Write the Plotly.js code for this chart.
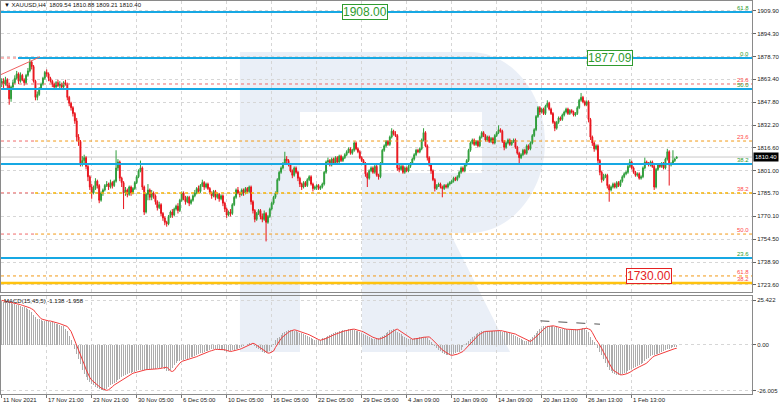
<!DOCTYPE html>
<html><head><meta charset="utf-8">
<script src="https://cdn.plot.ly/plotly-3.0.1.min.js"></script>
<style>html,body{margin:0;padding:0;background:#fff}#chart{width:782px;height:406px}</style>
</head><body><div id="chart"></div>
<script>
// ---------- DATA (XAUUSD H4, 11 Nov 2021 21:00 onward) ----------
const opens = [
1860,1862,1860,1863,1859,1850,1858,1861,1864,1867,
1862,1866,1863,1861,1866,1869,1875,1872,1862,1851,
1853,1857,1860,1864,1868,1867,1864,1862,1860,1858,
1861,1859,1860,1858,1861,1860,1851,1847,1844,1840,
1835,1824,1821,1806,1808,1810,1804,1797,1790,1786,
1789,1794,1791,1781,1786,1788,1791,1792,1790,1793,
1791,1794,1803,1807,1796,1793,1786,1788,1785,1790,
1786,1789,1793,1797,1801,1803,1790,1773,1785,1788,
1783,1786,1784,1780,1776,1778,1772,1769,1766,1765,
1770,1773,1771,1775,1777,1774,1781,1786,1782,1780,
1783,1779,1781,1784,1786,1789,1787,1791,1793,1790,
1792,1789,1786,1784,1787,1783,1785,1782,1784,1779,
1775,1771,1773,1772,1778,1783,1788,1786,1785,1788,
1786,1789,1787,1790,1780,1774,1768,1772,1774,1770,
1768,1772,1766,1770,1775,1779,1783,1786,1795,1800,
1803,1806,1809,1808,1805,1801,1798,1803,1800,1796,
1792,1790,1793,1791,1795,1797,1792,1789,1790,1791,
1789,1790,1792,1800,1807,1808,1805,1809,1806,1810,
1807,1811,1808,1810,1812,1814,1816,1813,1815,1820,
1816,1814,1810,1808,1806,1799,1796,1801,1803,1800,
1804,1798,1797,1806,1815,1818,1821,1819,1824,1828,
1826,1825,1803,1802,1804,1800,1803,1801,1804,1806,
1809,1812,1815,1814,1816,1822,1827,1818,1810,1805,
1801,1795,1789,1791,1792,1790,1789,1791,1790,1792,
1793,1794,1796,1795,1797,1800,1803,1801,1805,1808,
1815,1820,1822,1819,1821,1818,1824,1827,1825,1822,
1824,1821,1823,1820,1825,1827,1829,1828,1821,1817,
1820,1822,1819,1821,1822,1817,1813,1810,1812,1815,
1813,1818,1816,1820,1825,1829,1838,1844,1841,1843,
1840,1845,1847,1843,1840,1834,1830,1834,1837,1836,
1839,1841,1843,1840,1842,1841,1839,1840,1844,1849,
1851,1848,1846,1848,1836,1824,1820,1816,1818,1808,
1800,1795,1797,1798,1791,1788,1790,1792,1790,1793,
1791,1794,1797,1799,1800,1804,1807,1803,1800,1798,
1799,1796,1797,1803,1807,1806,1805,1807,1804,1790,
1802,1805,1804,1806,1803,1809,1814,1805,1806,1808,
1809.54];
const highs = [
1864,1864,1865,1864,1861,1859,1863,1866,1869,1868,
1868,1867,1864,1867,1871,1878,1876,1873,1863,1855,
1858,1861,1865,1869,1870,1868,1865,1863,1861,1862,
1863,1862,1861,1862,1863,1861,1852,1848,1845,1841,
1837,1826,1822,1811,1812,1811,1805,1798,1792,1791,
1796,1795,1792,1787,1789,1792,1794,1793,1795,1794,
1795,1815,1809,1808,1797,1794,1790,1789,1791,1791,
1790,1794,1798,1802,1808,1804,1791,1786,1792,1789,
1788,1787,1785,1781,1780,1779,1773,1770,1767,1771,
1774,1775,1776,1778,1779,1782,1787,1787,1784,1784,
1784,1782,1785,1788,1790,1791,1792,1795,1794,1793,
1793,1790,1787,1788,1788,1786,1786,1785,1785,1780,
1776,1774,1775,1779,1784,1789,1790,1787,1789,1789,
1790,1790,1791,1791,1781,1775,1773,1775,1775,1772,
1774,1773,1771,1776,1780,1784,1787,1796,1801,1804,
1807,1814,1811,1809,1806,1802,1804,1804,1801,1797,
1793,1794,1794,1796,1798,1798,1793,1791,1792,1792,
1791,1793,1801,1808,1810,1809,1810,1810,1811,1811,
1812,1812,1811,1813,1815,1817,1817,1816,1821,1821,
1817,1815,1811,1809,1807,1800,1802,1804,1804,1805,
1805,1799,1807,1816,1819,1822,1822,1825,1830,1829,
1828,1826,1805,1805,1805,1804,1804,1805,1807,1810,
1813,1816,1816,1817,1823,1830,1828,1819,1811,1806,
1802,1796,1792,1793,1793,1791,1792,1792,1793,1794,
1795,1797,1797,1798,1801,1804,1804,1806,1809,1816,
1821,1823,1823,1822,1822,1825,1828,1828,1826,1825,
1825,1824,1824,1826,1828,1832,1830,1829,1822,1821,
1823,1823,1822,1823,1823,1818,1814,1813,1816,1816,
1819,1819,1821,1826,1830,1839,1845,1845,1844,1844,
1846,1849,1848,1844,1841,1835,1835,1838,1838,1840,
1842,1844,1844,1843,1843,1842,1841,1845,1850,1854,
1852,1849,1849,1849,1837,1825,1821,1819,1819,1809,
1801,1799,1799,1799,1792,1791,1793,1793,1794,1794,
1795,1798,1800,1801,1805,1809,1808,1804,1801,1800,
1800,1798,1804,1810,1808,1807,1808,1808,1805,1803,
1806,1806,1807,1807,1810,1816,1815,1807,1815,1810,
1810.88];
const lows = [
1858,1857,1859,1857,1846,1848,1856,1860,1863,1860,
1861,1862,1859,1860,1865,1868,1870,1861,1849,1849,
1852,1856,1859,1863,1865,1862,1861,1858,1856,1857,
1858,1857,1857,1856,1859,1849,1845,1842,1838,1833,
1821,1818,1804,1804,1806,1802,1794,1788,1782,1785,
1788,1789,1779,1780,1784,1787,1790,1788,1789,1789,
1790,1793,1801,1794,1790,1775,1784,1783,1784,1784,
1785,1788,1792,1796,1800,1788,1771,1772,1781,1781,
1781,1782,1778,1774,1775,1770,1767,1764,1763,1764,
1769,1769,1770,1774,1772,1773,1780,1781,1778,1779,
1777,1778,1780,1783,1785,1786,1786,1790,1788,1789,
1788,1785,1782,1783,1781,1782,1780,1781,1777,1773,
1769,1770,1770,1771,1777,1782,1785,1783,1784,1784,
1785,1786,1786,1778,1772,1766,1767,1771,1768,1766,
1767,1753,1765,1769,1774,1778,1782,1785,1794,1799,
1802,1805,1806,1804,1800,1796,1797,1799,1794,1790,
1788,1789,1790,1790,1794,1791,1787,1788,1788,1788,
1788,1789,1791,1799,1806,1804,1804,1805,1805,1806,
1806,1807,1807,1809,1811,1813,1812,1812,1814,1815,
1813,1809,1807,1805,1797,1790,1795,1800,1799,1799,
1797,1795,1796,1805,1814,1817,1818,1818,1823,1825,
1824,1801,1800,1801,1799,1799,1800,1800,1803,1805,
1808,1811,1813,1813,1815,1821,1817,1808,1804,1799,
1794,1787,1788,1790,1789,1783,1788,1789,1789,1791,
1792,1793,1794,1794,1796,1799,1800,1800,1804,1807,
1814,1819,1818,1818,1817,1817,1823,1824,1821,1821,
1820,1820,1819,1819,1824,1826,1827,1820,1815,1816,
1819,1818,1818,1820,1816,1812,1806,1809,1811,1812,
1812,1815,1815,1819,1824,1828,1837,1839,1840,1839,
1839,1844,1842,1839,1833,1828,1829,1833,1835,1835,
1838,1840,1839,1839,1840,1838,1838,1839,1843,1848,
1847,1845,1845,1834,1822,1818,1814,1815,1806,1798,
1793,1794,1796,1789,1780,1787,1789,1789,1789,1790,
1790,1793,1796,1798,1799,1803,1802,1799,1797,1797,
1795,1795,1796,1802,1805,1804,1804,1803,1788,1789,
1801,1803,1803,1802,1802,1808,1791,1804,1805,1807,
1809.21];
const closes = [
1862,1860,1863,1859,1850,1858,1861,1864,1867,1862,
1866,1863,1861,1866,1869,1875,1872,1862,1851,1853,
1857,1860,1864,1868,1867,1864,1862,1860,1858,1861,
1859,1860,1858,1861,1860,1851,1847,1844,1840,1835,
1824,1821,1806,1808,1810,1804,1797,1790,1786,1789,
1794,1791,1781,1786,1788,1791,1792,1790,1793,1791,
1794,1803,1807,1796,1793,1786,1788,1785,1790,1786,
1789,1793,1797,1801,1803,1790,1773,1785,1788,1783,
1786,1784,1780,1776,1778,1772,1769,1766,1765,1770,
1773,1771,1775,1777,1774,1781,1786,1782,1780,1783,
1779,1781,1784,1786,1789,1787,1791,1793,1790,1792,
1789,1786,1784,1787,1783,1785,1782,1784,1779,1775,
1771,1773,1772,1778,1783,1788,1786,1785,1788,1786,
1789,1787,1790,1780,1774,1768,1772,1774,1770,1768,
1772,1766,1770,1775,1779,1783,1786,1795,1800,1803,
1806,1809,1808,1805,1801,1798,1803,1800,1796,1792,
1790,1793,1791,1795,1797,1792,1789,1790,1791,1789,
1790,1792,1800,1807,1808,1805,1809,1806,1810,1807,
1811,1808,1810,1812,1814,1816,1813,1815,1820,1816,
1814,1810,1808,1806,1799,1796,1801,1803,1800,1804,
1798,1797,1806,1815,1818,1821,1819,1824,1828,1826,
1825,1803,1802,1804,1800,1803,1801,1804,1806,1809,
1812,1815,1814,1816,1822,1827,1818,1810,1805,1801,
1795,1789,1791,1792,1790,1789,1791,1790,1792,1793,
1794,1796,1795,1797,1800,1803,1801,1805,1808,1815,
1820,1822,1819,1821,1818,1824,1827,1825,1822,1824,
1821,1823,1820,1825,1827,1829,1828,1821,1817,1820,
1822,1819,1821,1822,1817,1813,1810,1812,1815,1813,
1818,1816,1820,1825,1829,1838,1844,1841,1843,1840,
1845,1847,1843,1840,1834,1830,1834,1837,1836,1839,
1841,1843,1840,1842,1841,1839,1840,1844,1849,1851,
1848,1846,1848,1836,1824,1820,1816,1818,1808,1800,
1795,1797,1798,1791,1788,1790,1792,1790,1793,1791,
1794,1797,1799,1800,1804,1807,1803,1800,1798,1799,
1796,1797,1803,1807,1806,1805,1807,1804,1790,1802,
1805,1804,1806,1803,1809,1814,1805,1806,1808,1809,
1810.4];
const macdMain = [
24.7,24.5,24.2,24.0,23.8,23.5,23.3,23.0,22.8,22.4,
22.1,21.7,21.4,21.0,20.4,19.8,18.4,17.0,15.9,14.8,
14.4,14.0,13.8,13.6,13.5,13.3,13.0,12.7,12.3,12.0,
11.6,11.2,10.8,10.4,9.0,7.6,5.0,2.5,0.0,-2.5,
-5.0,-8.0,-11.0,-14.0,-16.5,-18.5,-20.0,-21.0,-22.0,-23.0,
-23.8,-24.5,-25.0,-25.5,-25.8,-25.5,-24.8,-23.8,-22.8,-22.1,
-21.5,-20.8,-20.2,-19.3,-18.5,-17.7,-17.0,-16.5,-16.1,-15.8,
-15.5,-15.2,-14.7,-14.3,-14.2,-14.1,-14.0,-14.0,-13.9,-13.9,
-13.8,-13.6,-13.5,-13.3,-13.2,-13.0,-12.7,-13.5,-14.8,-15.1,
-14.5,-13.0,-11.5,-10.4,-9.4,-9.1,-8.8,-8.5,-8.2,-7.9,
-7.6,-7.1,-6.7,-6.2,-5.7,-5.3,-4.8,-4.4,-4.0,-3.6,
-3.3,-2.9,-2.6,-2.6,-2.6,-2.5,-2.5,-2.8,-3.2,-3.5,
-3.8,-3.6,-3.4,-3.1,-2.8,-2.5,-2.1,-1.6,-1.2,-0.6,
0.0,0.5,0.9,0.5,-0.2,-0.9,-1.7,-2.5,-3.2,-3.8,
-4.7,-4.6,-4.1,-3.5,-1.5,0.5,2.5,3.6,4.6,5.6,
6.6,7.2,7.8,8.2,8.5,8.3,8.0,7.6,7.2,6.9,
6.5,6.1,5.7,5.1,4.6,4.0,3.5,3.0,2.6,2.8,
3.0,3.6,4.1,4.7,5.2,5.6,6.0,6.5,7.0,7.3,
7.6,7.9,8.2,8.4,8.6,8.8,8.9,8.7,8.5,8.1,
7.7,7.3,6.8,6.2,5.6,4.9,4.3,3.9,3.5,3.2,
3.5,3.8,4.3,4.9,5.7,6.5,7.4,8.2,8.6,8.9,
8.2,7.5,6.8,6.0,5.1,4.3,3.7,3.2,3.3,3.4,
3.6,3.8,4.0,4.3,4.5,4.5,4.5,3.7,2.8,1.7,
0.5,-0.7,-1.9,-2.8,-3.6,-4.4,-5.2,-5.6,-6.0,-5.9,
-5.8,-5.3,-4.8,-4.3,-3.8,-2.7,-1.5,-0.3,1.0,2.1,
3.2,4.2,5.2,6.0,6.8,7.2,7.6,7.7,7.8,7.9,
8.0,8.0,8.1,8.1,8.1,7.9,7.7,7.5,7.3,7.1,
6.8,6.6,6.1,5.5,5.0,4.4,3.9,3.3,2.8,2.3,
1.9,2.7,3.5,4.5,5.5,6.7,8.0,8.8,9.6,10.4,
10.5,10.7,10.8,10.6,10.4,10.2,9.9,9.6,9.2,8.9,
8.8,8.7,8.6,8.6,8.5,8.5,8.7,8.8,9.0,9.2,
9.4,9.0,8.6,7.0,4.7,3.0,1.5,0.0,-2.0,-4.2,
-6.0,-8.2,-10.5,-12.5,-14.2,-15.0,-15.8,-16.4,-17.0,-17.0,
-16.9,-16.5,-16.1,-15.7,-15.0,-14.2,-13.5,-13.0,-12.5,-12.0,
-11.5,-11.0,-10.4,-9.2,-8.0,-7.2,-6.4,-6.0,-5.6,-5.3,
-5.0,-4.7,-4.2,-3.6,-3.1,-2.6,-2.1,-1.6,-1.4,-1.25,
-1.138];
const macdSignal = [
25.2,25.0,24.7,24.5,24.2,24.0,23.8,23.5,23.3,23.0,
22.8,22.4,22.1,21.7,21.4,21.0,20.4,19.8,18.4,17.0,
15.9,14.8,14.4,14.0,13.8,13.6,13.5,13.3,13.0,12.7,
12.3,12.0,11.6,11.2,10.8,10.4,9.0,7.6,5.0,2.5,
0.0,-2.5,-5.0,-8.0,-11.0,-14.0,-16.5,-18.5,-20.0,-21.0,
-22.0,-23.0,-23.8,-24.5,-25.0,-25.5,-25.8,-25.5,-24.8,-23.8,
-22.8,-22.1,-21.5,-20.8,-20.2,-19.3,-18.5,-17.7,-17.0,-16.5,
-16.1,-15.8,-15.5,-15.2,-14.7,-14.3,-14.2,-14.1,-14.0,-14.0,
-13.9,-13.9,-13.8,-13.6,-13.5,-13.3,-13.2,-13.0,-12.7,-13.5,
-14.8,-15.1,-14.5,-13.0,-11.5,-10.4,-9.4,-9.1,-8.8,-8.5,
-8.2,-7.9,-7.6,-7.1,-6.7,-6.2,-5.7,-5.3,-4.8,-4.4,
-4.0,-3.6,-3.3,-2.9,-2.6,-2.6,-2.6,-2.5,-2.5,-2.8,
-3.2,-3.5,-3.8,-3.6,-3.4,-3.1,-2.8,-2.5,-2.1,-1.6,
-1.2,-0.6,0.0,0.5,0.9,0.5,-0.2,-0.9,-1.7,-2.5,
-3.2,-3.8,-4.7,-4.6,-4.1,-3.5,-1.5,0.5,2.5,3.6,
4.6,5.6,6.6,7.2,7.8,8.2,8.5,8.3,8.0,7.6,
7.2,6.9,6.5,6.1,5.7,5.1,4.6,4.0,3.5,3.0,
2.6,2.8,3.0,3.6,4.1,4.7,5.2,5.6,6.0,6.5,
7.0,7.3,7.6,7.9,8.2,8.4,8.6,8.8,8.9,8.7,
8.5,8.1,7.7,7.3,6.8,6.2,5.6,4.9,4.3,3.9,
3.5,3.2,3.5,3.8,4.3,4.9,5.7,6.5,7.4,8.2,
8.6,8.9,8.2,7.5,6.8,6.0,5.1,4.3,3.7,3.2,
3.3,3.4,3.6,3.8,4.0,4.3,4.5,4.5,4.5,3.7,
2.8,1.7,0.5,-0.7,-1.9,-2.8,-3.6,-4.4,-5.2,-5.6,
-6.0,-5.9,-5.8,-5.3,-4.8,-4.3,-3.8,-2.7,-1.5,-0.3,
1.0,2.1,3.2,4.2,5.2,6.0,6.8,7.2,7.6,7.7,
7.8,7.9,8.0,8.0,8.1,8.1,8.1,7.9,7.7,7.5,
7.3,7.1,6.8,6.6,6.1,5.5,5.0,4.4,3.9,3.3,
2.8,2.3,1.9,2.7,3.5,4.5,5.5,6.7,8.0,8.8,
9.6,10.4,10.5,10.7,10.8,10.6,10.4,10.2,9.9,9.6,
9.2,8.9,8.8,8.7,8.6,8.6,8.5,8.5,8.7,8.8,
9.0,9.2,9.4,9.0,8.6,7.0,4.7,3.0,1.5,0.0,
-2.0,-4.2,-6.0,-8.2,-10.5,-12.5,-14.2,-15.0,-15.8,-16.4,
-17.0,-17.0,-16.9,-16.5,-16.1,-15.7,-15.0,-14.2,-13.5,-13.0,
-12.5,-12.0,-11.5,-11.0,-10.4,-9.2,-8.0,-7.2,-6.4,-6.0,
-5.6,-5.3,-5.0,-4.7,-4.2,-3.6,-3.1,-2.7,-2.4,-2.15,
-1.958];

const xTickBars = [0,24,48,72,96,120,144,168,192,216,240,264,288,312,336];
const xTickLabels = ["11 Nov 2021","17 Nov 21:00","23 Nov 21:00","30 Nov 05:00","6 Dec 05:00","10 Dec 05:00","16 Dec 05:00","22 Dec 05:00","29 Dec 05:00","4 Jan 09:00","10 Jan 09:00","14 Jan 09:00","20 Jan 13:00","26 Jan 13:00","1 Feb 13:00"];
const yTickVals = [1909.9,1894.3,1878.7,1863.4,1847.8,1832.2,1816.6,1801.0,1785.7,1770.1,1754.5,1738.9,1723.6];
const macdTickVals = [25.422, 0, -26.005];
const macdTickText = ["25.422","0.00","-26.005"];

const fibLevels = [1909.1,1877.8,1860.1,1856.7,1821.3,1805.7,1786.0,1758.0,1741.7,1729.5,1724.7];
const fibTexts  = ["61.8","0.0","23.6","50.0","23.6","38.2","38.2","50.0","23.6","61.8","38.2"];
const fibKinds  = ["cyan","cyan","red","cyan","orange","cyan","yellow","orange","cyan","orange","gold"];

const headerText = "XAUUSD,H4  1809.54 1810.88 1809.21 1810.40";
const macdText = "MACD(15,45,5) -1.138 -1.958";
const lastPrice = 1810.40;
const boxLabels = [
  {text:"1908.00", bar:193.8, price:1909.1, color:"#2f9b2f"},
  {text:"1877.09", bar:324.4, price:1877.8, color:"#2f9b2f"},
  {text:"1730.00", bar:345.2, price:1729.2, color:"#e52222"}
];

// ---------- LAYOUT CONSTANTS ----------
const W = 782, H = 406, ML = 1, MR = 30, MT = 1, MB = 12;
const PW = W - ML - MR, PH = H - MT - MB;
const X0 = -0.37, X1 = X0 + PW / 1.875;
const FONT = "Liberation Sans, Arial, sans-serif";
const idx = closes.map((_, i) => i);

const STYLE = {
  cyan:   {color:'#17a8e3', width:2,   dash:'solid'},
  red:    {color:'#f06a6a', width:1,   dash:'dot'},
  orange: {color:'#f29a16', width:1,   dash:'dot'},
  yellow: {color:'#f5b000', width:1.5, dash:'dot'},
  gold:   {color:'#ffc20e', width:2.5, dash:'solid'}
};
const prefixEnd = {1: 8.7, 4: 17.8, 6: 17.8, 7: 17.8};

const shapes = [];
// watermark "R" (pixel outline converted to paper coords)
function P(x, y){ return ((x-ML)/PW).toFixed(4) + ',' + ((H-MB-y)/PH).toFixed(4); }
const rPath = 'M' + P(240,52) + 'L' + P(470,52) +
  'C' + P(511,52) + ' ' + P(545,93) + ' ' + P(545,142) +
  'C' + P(545,192) + ' ' + P(511,233) + ' ' + P(470,233) +
  'L' + P(450,233) + 'L' + P(510,352) + 'L' + P(362,352) + 'L' + P(362,173) +
  'L' + P(482,173) + 'L' + P(482,112) + 'L' + P(300,112) + 'L' + P(300,352) +
  'L' + P(240,352) + 'Z';
shapes.push({type:'path', xref:'paper', yref:'paper', path:rPath, fillcolor:'rgba(205,217,235,0.42)', line:{width:0}, layer:'below'});

// current price line
shapes.push({type:'line', xref:'x', yref:'y', x0:X0, x1:X1, y0:lastPrice, y1:lastPrice, line:{color:'#c8c8c8', width:1}, layer:'below'});

// fib / level lines
fibLevels.forEach((lv, k) => {
  const st = STYLE[fibKinds[k]];
  let start = X0;
  if (prefixEnd[k] !== undefined) {
    shapes.push({type:'line', xref:'x', yref:'y', x0:X0, x1:prefixEnd[k], y0:lv, y1:lv, line:STYLE.red});
    start = prefixEnd[k];
  }
  shapes.push({type:'line', xref:'x', yref:'y', x0:start, x1:X1, y0:lv, y1:lv, line:{color:st.color, width:st.width, dash:st.dash}});
});
// red trend line at top-left
shapes.push({type:'line', xref:'x', yref:'y', x0:-0.9, y0:1866.2, x1:20.4, y1:1878.5, line:{color:'#f06060', width:1}});
// dashed line on MACD peaks
shapes.push({type:'line', xref:'x2', yref:'y2', x0:287.3, y0:13.6, x1:319.1, y1:11.7, line:{color:'#555', width:1, dash:'dash'}});

// ---------- ANNOTATIONS ----------
const ann = [];
xTickBars.forEach((b, k) => ann.push({xref:'x2', yref:'paper', x:b, y:-0.004, xanchor:'left', yanchor:'top',
  text:xTickLabels[k], showarrow:false, font:{size:6, color:'#222', family:FONT}, borderpad:0}));
fibLevels.forEach((lv, k) => ann.push({xref:'paper', yref:'y', x:(750-ML)/PW, y:lv, xanchor:'right', yanchor:'bottom',
  text:fibTexts[k], showarrow:false, borderpad:0, font:{size:6, family:FONT, color: fibKinds[k]==='cyan' ? '#2e9a2e' : '#ff4a4a'}}));
boxLabels.forEach(b => ann.push({xref:'x', yref:'y', x:b.bar, y:b.price, xanchor:'center', yanchor:'middle',
  text:b.text, showarrow:false, font:{size:12, color:b.color, family:FONT}, bgcolor:'#ffffff', bordercolor:b.color, borderwidth:1, borderpad:0}));
ann.push({xref:'paper', yref:'paper', x:(3-ML)/PW, y:1, xanchor:'left', yanchor:'top', text:'\u25BC ' + headerText,
  showarrow:false, borderpad:0, font:{size:6, color:'#111', family:FONT}});
ann.push({xref:'paper', yref:'paper', x:(3-ML)/PW, y:(H-MB-297)/PH, xanchor:'left', yanchor:'top', text:macdText,
  showarrow:false, borderpad:0, font:{size:6, color:'#111', family:FONT}});
ann.push({xref:'paper', yref:'y', x:1, y:lastPrice, xanchor:'left', yanchor:'middle', xshift:1, text:lastPrice.toFixed(2),
  showarrow:false, bgcolor:'#000', borderpad:1, font:{size:6, color:'#fff', family:FONT}});

// ---------- TRACES ----------
const traces = [
  {type:'candlestick', x:idx, open:opens, high:highs, low:lows, close:closes, xaxis:'x', yaxis:'y',
   increasing:{line:{color:'#2f9e3b', width:1}, fillcolor:'#2f9e3b'},
   decreasing:{line:{color:'#e8141c', width:1}, fillcolor:'#e8141c'},
   whiskerwidth:0, hoverinfo:'skip'},
  {type:'bar', x:idx, y:macdMain, xaxis:'x2', yaxis:'y2', width:0.5,
   marker:{color:'#acacac', line:{width:0}}, hoverinfo:'skip'},
  {type:'scatter', mode:'lines', x:idx, y:macdSignal, xaxis:'x2', yaxis:'y2',
   line:{color:'#f23b3b', width:1}, hoverinfo:'skip'}
];

const gridCommon = {showgrid:true, gridcolor:'#d6d6d6', griddash:'dot', gridwidth:1, zeroline:false,
  showline:true, linecolor:'#8a8a8a', linewidth:1, mirror:true, fixedrange:true};
const mainBottom = (H-MB-292)/PH, macdTop = (H-MB-296)/PH;
const layout = {
  width:W, height:H, margin:{l:ML, r:MR, t:MT, b:MB, pad:0},
  paper_bgcolor:'#ffffff', plot_bgcolor:'rgba(0,0,0,0)', showlegend:false,
  font:{family:FONT, size:6, color:'#222'}, bargap:0,
  xaxis:Object.assign({}, gridCommon, {domain:[0,1], anchor:'y', range:[X0,X1], tickvals:xTickBars,
    showticklabels:false, ticks:'', rangeslider:{visible:false}}),
  yaxis:Object.assign({}, gridCommon, {domain:[mainBottom,1], anchor:'x', side:'right', range:[1718.57,1916.57],
    tickvals:yTickVals, ticktext:yTickVals.map(v=>v.toFixed(2)), ticks:'outside', ticklen:3, tickcolor:'#666',
    tickfont:{size:6, color:'#222', family:FONT}}),
  xaxis2:Object.assign({}, gridCommon, {domain:[0,1], anchor:'y2', range:[X0,X1], tickvals:xTickBars,
    showticklabels:false, ticks:'outside', ticklen:3, tickcolor:'#777'}),
  yaxis2:Object.assign({}, gridCommon, {domain:[0,macdTop], anchor:'x2', side:'right', range:[-27.88,27.69],
    tickvals:macdTickVals, ticktext:macdTickText, ticks:'outside', ticklen:3, tickcolor:'#666',
    tickfont:{size:6, color:'#222', family:FONT}}),
  shapes:shapes, annotations:ann
};

Plotly.newPlot('chart', traces, layout, {staticPlot:true, displayModeBar:false});
</script></body></html>
